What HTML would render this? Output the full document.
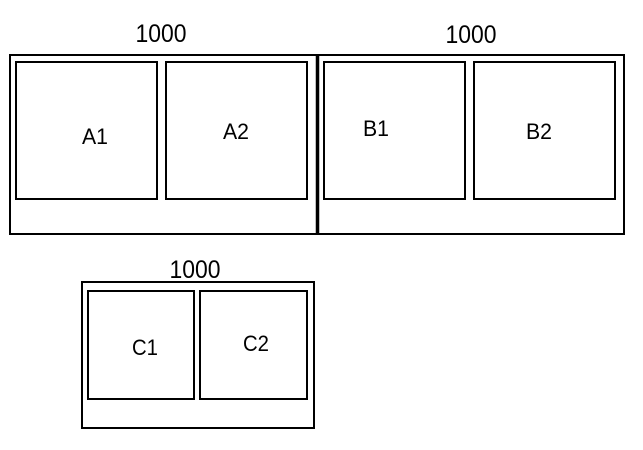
<!DOCTYPE html>
<html>
<head>
<meta charset="utf-8">
<style>
html,body{margin:0;padding:0;background:#fff;}
svg{display:block;}
text{font-family:"Liberation Sans",sans-serif;fill:#000;}
</style>
</head>
<body>
<svg width="643" height="450" viewBox="0 0 643 450" xmlns="http://www.w3.org/2000/svg">
  <rect x="0" y="0" width="643" height="450" fill="#fff"/>
  <g fill="none" stroke="#000" stroke-width="2">
    <rect x="10" y="55" width="307" height="179"/>
    <rect x="317" y="55" width="307" height="179"/>
    <rect x="16" y="62" width="141" height="137"/>
    <rect x="166" y="62" width="141" height="137"/>
    <rect x="324" y="62" width="141" height="137"/>
    <rect x="474" y="62" width="141" height="137"/>
    <rect x="82" y="282" width="232" height="146"/>
    <rect x="88" y="291" width="106" height="108"/>
    <rect x="200" y="291" width="107" height="108"/>
  </g>
  <line x1="317.5" y1="54" x2="317.5" y2="235" stroke="#000" stroke-width="3.5"/>

  <text x="161" y="42" font-size="25" text-anchor="middle" textLength="51" lengthAdjust="spacingAndGlyphs">1000</text>
  <text x="471" y="43" font-size="25" text-anchor="middle" textLength="51" lengthAdjust="spacingAndGlyphs">1000</text>
  <text x="195" y="278" font-size="25" text-anchor="middle" textLength="51" lengthAdjust="spacingAndGlyphs">1000</text>

  <text x="95" y="144" font-size="22" text-anchor="middle" textLength="26" lengthAdjust="spacingAndGlyphs">A1</text>
  <text x="236" y="139" font-size="22" text-anchor="middle" textLength="26" lengthAdjust="spacingAndGlyphs">A2</text>
  <text x="376" y="136" font-size="22" text-anchor="middle" textLength="26" lengthAdjust="spacingAndGlyphs">B1</text>
  <text x="539" y="139" font-size="22" text-anchor="middle" textLength="26" lengthAdjust="spacingAndGlyphs">B2</text>
  <text x="145" y="355" font-size="22" text-anchor="middle" textLength="26" lengthAdjust="spacingAndGlyphs">C1</text>
  <text x="256" y="351" font-size="22" text-anchor="middle" textLength="26" lengthAdjust="spacingAndGlyphs">C2</text>
</svg>
</body>
</html>
